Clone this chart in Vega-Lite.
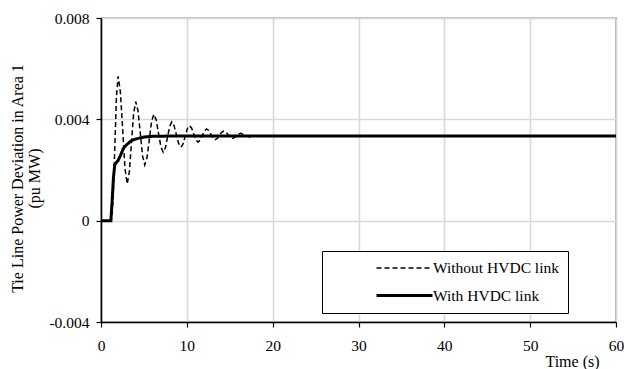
{
  "$schema": "https://vega.github.io/schema/vega-lite/v6.json",
  "width": 515,
  "height": 304,
  "autosize": "none",
  "padding": {"left": 101, "top": 18, "right": 8, "bottom": 47},
  "background": "white",
  "config": {
    "font": "Liberation Serif",
    "view": {"stroke": "#000000", "strokeWidth": 1.2},
    "axis": {
      "labelFont": "Liberation Serif",
      "titleFont": "Liberation Serif",
      "labelColor": "#000000",
      "titleColor": "#000000",
      "labelFontSize": 15.5,
      "titleFontSize": 16,
      "titleFontWeight": "normal",
      "domainColor": "#000000",
      "domainWidth": 1.5,
      "tickColor": "#000000",
      "tickSize": 5,
      "tickWidth": 1.2,
      "gridColor": "#d9d9d9",
      "gridWidth": 1.6
    },
    "legend": {
      "labelFont": "Liberation Serif",
      "labelFontSize": 15.5,
      "labelColor": "#000000"
    }
  },
  "data": {
    "values": [
      {"t": 0, "v": 0, "s": "With HVDC link"},
      {"t": 1.15, "v": 0, "s": "With HVDC link"},
      {"t": 1.3, "v": 0.0008, "s": "With HVDC link"},
      {"t": 1.45, "v": 0.0017, "s": "With HVDC link"},
      {"t": 1.6, "v": 0.0022, "s": "With HVDC link"},
      {"t": 1.8, "v": 0.0023, "s": "With HVDC link"},
      {"t": 2.0, "v": 0.00238, "s": "With HVDC link"},
      {"t": 2.3, "v": 0.0026, "s": "With HVDC link"},
      {"t": 2.6, "v": 0.00285, "s": "With HVDC link"},
      {"t": 3.0, "v": 0.003, "s": "With HVDC link"},
      {"t": 3.5, "v": 0.00315, "s": "With HVDC link"},
      {"t": 4.0, "v": 0.00322, "s": "With HVDC link"},
      {"t": 5.0, "v": 0.0033, "s": "With HVDC link"},
      {"t": 6.0, "v": 0.00333, "s": "With HVDC link"},
      {"t": 8.0, "v": 0.00334, "s": "With HVDC link"},
      {"t": 60, "v": 0.00334, "s": "With HVDC link"},
      {"t": 0, "v": 0, "s": "Without HVDC link"},
      {"t": 1.2, "v": 0, "s": "Without HVDC link"},
      {"t": 1.4, "v": 0.0008, "s": "Without HVDC link"},
      {"t": 1.6, "v": 0.0028, "s": "Without HVDC link"},
      {"t": 1.8, "v": 0.0049, "s": "Without HVDC link"},
      {"t": 2.0, "v": 0.0057, "s": "Without HVDC link"},
      {"t": 2.26, "v": 0.00508, "s": "Without HVDC link"},
      {"t": 2.53, "v": 0.003575, "s": "Without HVDC link"},
      {"t": 2.79, "v": 0.00207, "s": "Without HVDC link"},
      {"t": 3.05, "v": 0.00145, "s": "Without HVDC link"},
      {"t": 3.3, "v": 0.00192, "s": "Without HVDC link"},
      {"t": 3.55, "v": 0.003075, "s": "Without HVDC link"},
      {"t": 3.8, "v": 0.00423, "s": "Without HVDC link"},
      {"t": 4.05, "v": 0.0047, "s": "Without HVDC link"},
      {"t": 4.31, "v": 0.00434, "s": "Without HVDC link"},
      {"t": 4.58, "v": 0.00345, "s": "Without HVDC link"},
      {"t": 4.84, "v": 0.00256, "s": "Without HVDC link"},
      {"t": 5.1, "v": 0.0022, "s": "Without HVDC link"},
      {"t": 5.36, "v": 0.00249, "s": "Without HVDC link"},
      {"t": 5.63, "v": 0.0032, "s": "Without HVDC link"},
      {"t": 5.89, "v": 0.00391, "s": "Without HVDC link"},
      {"t": 6.15, "v": 0.0042, "s": "Without HVDC link"},
      {"t": 6.43, "v": 0.00398, "s": "Without HVDC link"},
      {"t": 6.7, "v": 0.00345, "s": "Without HVDC link"},
      {"t": 6.98, "v": 0.00292, "s": "Without HVDC link"},
      {"t": 7.25, "v": 0.0027, "s": "Without HVDC link"},
      {"t": 7.5, "v": 0.00288, "s": "Without HVDC link"},
      {"t": 7.75, "v": 0.0033, "s": "Without HVDC link"},
      {"t": 8.0, "v": 0.00372, "s": "Without HVDC link"},
      {"t": 8.25, "v": 0.0039, "s": "Without HVDC link"},
      {"t": 8.51, "v": 0.00375, "s": "Without HVDC link"},
      {"t": 8.78, "v": 0.0034, "s": "Without HVDC link"},
      {"t": 9.04, "v": 0.00305, "s": "Without HVDC link"},
      {"t": 9.3, "v": 0.0029, "s": "Without HVDC link"},
      {"t": 9.55, "v": 0.00302, "s": "Without HVDC link"},
      {"t": 9.8, "v": 0.003325, "s": "Without HVDC link"},
      {"t": 10.05, "v": 0.00363, "s": "Without HVDC link"},
      {"t": 10.3, "v": 0.00375, "s": "Without HVDC link"},
      {"t": 10.55, "v": 0.00366, "s": "Without HVDC link"},
      {"t": 10.8, "v": 0.003425, "s": "Without HVDC link"},
      {"t": 11.05, "v": 0.00319, "s": "Without HVDC link"},
      {"t": 11.3, "v": 0.0031, "s": "Without HVDC link"},
      {"t": 11.55, "v": 0.00318, "s": "Without HVDC link"},
      {"t": 11.8, "v": 0.00336, "s": "Without HVDC link"},
      {"t": 12.05, "v": 0.00354, "s": "Without HVDC link"},
      {"t": 12.3, "v": 0.00362, "s": "Without HVDC link"},
      {"t": 12.55, "v": 0.00356, "s": "Without HVDC link"},
      {"t": 12.8, "v": 0.00341, "s": "Without HVDC link"},
      {"t": 13.05, "v": 0.00326, "s": "Without HVDC link"},
      {"t": 13.3, "v": 0.0032, "s": "Without HVDC link"},
      {"t": 13.55, "v": 0.00325, "s": "Without HVDC link"},
      {"t": 13.8, "v": 0.00337, "s": "Without HVDC link"},
      {"t": 14.05, "v": 0.00349, "s": "Without HVDC link"},
      {"t": 14.3, "v": 0.00354, "s": "Without HVDC link"},
      {"t": 14.55, "v": 0.0035, "s": "Without HVDC link"},
      {"t": 14.8, "v": 0.0034, "s": "Without HVDC link"},
      {"t": 15.05, "v": 0.00329, "s": "Without HVDC link"},
      {"t": 15.3, "v": 0.00325, "s": "Without HVDC link"},
      {"t": 15.55, "v": 0.00328, "s": "Without HVDC link"},
      {"t": 15.8, "v": 0.00335, "s": "Without HVDC link"},
      {"t": 16.05, "v": 0.00342, "s": "Without HVDC link"},
      {"t": 16.3, "v": 0.00345, "s": "Without HVDC link"},
      {"t": 16.8, "v": 0.003375, "s": "Without HVDC link"},
      {"t": 17.3, "v": 0.0033, "s": "Without HVDC link"},
      {"t": 17.8, "v": 0.00335, "s": "Without HVDC link"},
      {"t": 18.5, "v": 0.00334, "s": "Without HVDC link"},
      {"t": 60, "v": 0.00334, "s": "Without HVDC link"}
    ]
  },
  "mark": {"type": "line", "color": "#000000", "clip": true},
  "encoding": {
    "x": {
      "field": "t",
      "type": "quantitative",
      "scale": {"domain": [0, 60], "nice": false},
      "axis": {
        "values": [0, 10, 20, 30, 40, 50, 60],
        "title": "Time (s)",
        "labelPadding": 11,
        "titleX": 471,
        "titleY": 39,
        "titleAlign": "center",
        "titleBaseline": "middle",
        "labelFlush": false
      }
    },
    "y": {
      "field": "v",
      "type": "quantitative",
      "scale": {"domain": [-0.004, 0.008], "nice": false, "zero": false},
      "axis": {
        "values": [-0.004, 0, 0.004, 0.008],
        "labelExpr": "datum.value == 0 ? '0' : replace(format(datum.value, '.3f'), '\u2212', '-')",
        "labelPadding": 7,
        "title": ["Tie Line Power Deviation in Area 1", "(pu MW)"],
        "titleX": -84,
        "titleY": 160,
        "titleAngle": -90,
        "titleAlign": "center",
        "titleBaseline": "middle",
        "titleLineHeight": 17
      }
    },
    "strokeDash": {
      "field": "s",
      "type": "nominal",
      "scale": {"domain": ["Without HVDC link", "With HVDC link"], "range": [[5, 3], [1, 0]]},
      "legend": {
        "title": null,
        "orient": "none",
        "legendX": 221,
        "legendY": 233,
        "direction": "vertical",
        "padding": 9,
        "rowPadding": 10,
        "strokeColor": "#000000",
        "fillColor": "#ffffff",
        "symbolType": "M-4,0H4",
        "symbolSize": 196,
        "symbolStrokeColor": "#000000",
        "symbolOffset": 65,
        "labelOffset": 20,
        "labelExpr": "datum.label + '\u00a0\u00a0\u00a0\u00a0\u00a0\u00a0\u00a0\u00a0\u00a0\u00a0\u00a0\u00a0'"
      }
    },
    "strokeWidth": {
      "field": "s",
      "type": "ordinal",
      "scale": {"domain": ["Without HVDC link", "With HVDC link"], "range": [1.5, 3]},
      "legend": {
        "title": null,
        "orient": "none",
        "legendX": 221,
        "legendY": 233,
        "direction": "vertical",
        "padding": 9,
        "rowPadding": 10,
        "strokeColor": "#000000",
        "fillColor": "#ffffff",
        "symbolType": "M-4,0H4",
        "symbolSize": 196,
        "symbolStrokeColor": "#000000",
        "symbolOffset": 65,
        "labelOffset": 20,
        "labelExpr": "datum.label + '\u00a0\u00a0\u00a0\u00a0\u00a0\u00a0\u00a0\u00a0\u00a0\u00a0\u00a0\u00a0'"
      }
    },
    "order": {"field": "t", "type": "quantitative"}
  }
}
